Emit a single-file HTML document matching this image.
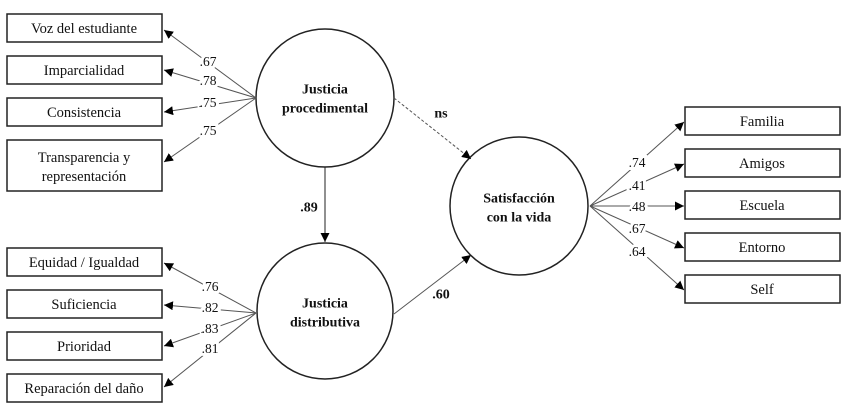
<!DOCTYPE html>
<html><head><meta charset="utf-8">
<style>html,body{margin:0;padding:0;background:#fff}svg{display:block}</style>
</head><body>
<svg width="847" height="416" viewBox="0 0 847 416" xmlns="http://www.w3.org/2000/svg" font-family="'Liberation Serif', serif">
<defs>
<marker id="a" viewBox="0 0 10 10" refX="10" refY="5" markerWidth="9" markerHeight="9" markerUnits="userSpaceOnUse" orient="auto"><path d="M0,0L10,5L0,10z" fill="#000"/></marker>
</defs>
<g fill="#fff" stroke="#222" stroke-width="1.5">
<rect x="7" y="14" width="155" height="28"/>
<rect x="7" y="56" width="155" height="28"/>
<rect x="7" y="98" width="155" height="28"/>
<rect x="7" y="140" width="155" height="51"/>
<rect x="7" y="248" width="155" height="28"/>
<rect x="7" y="290" width="155" height="28"/>
<rect x="7" y="332" width="155" height="28"/>
<rect x="7" y="374" width="155" height="28"/>
<rect x="685" y="107" width="155" height="28"/>
<rect x="685" y="149" width="155" height="28"/>
<rect x="685" y="191" width="155" height="28"/>
<rect x="685" y="233" width="155" height="28"/>
<rect x="685" y="275" width="155" height="28"/>
<circle cx="325" cy="98" r="69"/>
<circle cx="325" cy="311" r="68"/>
<circle cx="519" cy="206" r="69"/>
</g>
<g stroke="#555" stroke-width="1" fill="none" marker-end="url(#a)">
<line x1="256" y1="98" x2="164" y2="30"/>
<line x1="256" y1="98" x2="164" y2="70"/>
<line x1="256" y1="98" x2="164" y2="112"/>
<line x1="256" y1="98" x2="164" y2="162"/>
<line x1="256" y1="313" x2="164" y2="263"/>
<line x1="256" y1="313" x2="164" y2="305"/>
<line x1="256" y1="313" x2="164" y2="346"/>
<line x1="256" y1="313" x2="164" y2="387"/>
<line x1="590" y1="206" x2="684" y2="122"/>
<line x1="590" y1="206" x2="684" y2="164"/>
<line x1="590" y1="206" x2="684" y2="206"/>
<line x1="590" y1="206" x2="684" y2="248"/>
<line x1="590" y1="206" x2="684" y2="290"/>
<line x1="325" y1="167" x2="325" y2="242" stroke="#222"/>
<line x1="394" y1="314" x2="471" y2="255"/>
<line x1="394" y1="98" x2="471" y2="159" stroke-dasharray="3,2"/>
</g>
<g font-size="14.5" fill="#111" text-anchor="middle" dominant-baseline="middle">
<text x="84" y="29.5">Voz del estudiante</text>
<text x="84" y="71.5">Imparcialidad</text>
<text x="84" y="113.5">Consistencia</text>
<text x="84" y="158.5">Transparencia y</text>
<text x="84" y="177.5">representación</text>
<text x="84" y="263.5">Equidad / Igualdad</text>
<text x="84" y="305.5">Suficiencia</text>
<text x="84" y="347.5">Prioridad</text>
<text x="84" y="389.5">Reparación del daño</text>
<text x="762" y="122.5">Familia</text>
<text x="762" y="164.5">Amigos</text>
<text x="762" y="206.5">Escuela</text>
<text x="762" y="248.5">Entorno</text>
<text x="762" y="290.5">Self</text>
</g>
<g font-size="14" font-weight="bold" fill="#111" text-anchor="middle" dominant-baseline="middle">
<text x="325" y="90.5">Justicia</text>
<text x="325" y="109.5">procedimental</text>
<text x="325" y="304.5">Justicia</text>
<text x="325" y="323.5">distributiva</text>
<text x="519" y="199.5">Satisfacción</text>
<text x="519" y="218.5">con la vida</text>
<text x="309" y="208.5">.89</text>
<text x="441" y="114.5">ns</text>
<text x="441" y="295.5">.60</text>
</g>
<g font-size="13.5" fill="#111" text-anchor="middle" dominant-baseline="middle" stroke="#fff" stroke-width="6" paint-order="stroke">
<text x="208" y="63">.67</text>
<text x="208" y="82">.78</text>
<text x="208" y="104">.75</text>
<text x="208" y="132">.75</text>
<text x="210" y="288">.76</text>
<text x="210" y="309">.82</text>
<text x="210" y="330">.83</text>
<text x="210" y="350">.81</text>
<text x="637" y="164">.74</text>
<text x="637" y="187">.41</text>
<text x="637" y="208">.48</text>
<text x="637" y="230">.67</text>
<text x="637" y="253">.64</text>
</g>
</svg>
</body></html>
